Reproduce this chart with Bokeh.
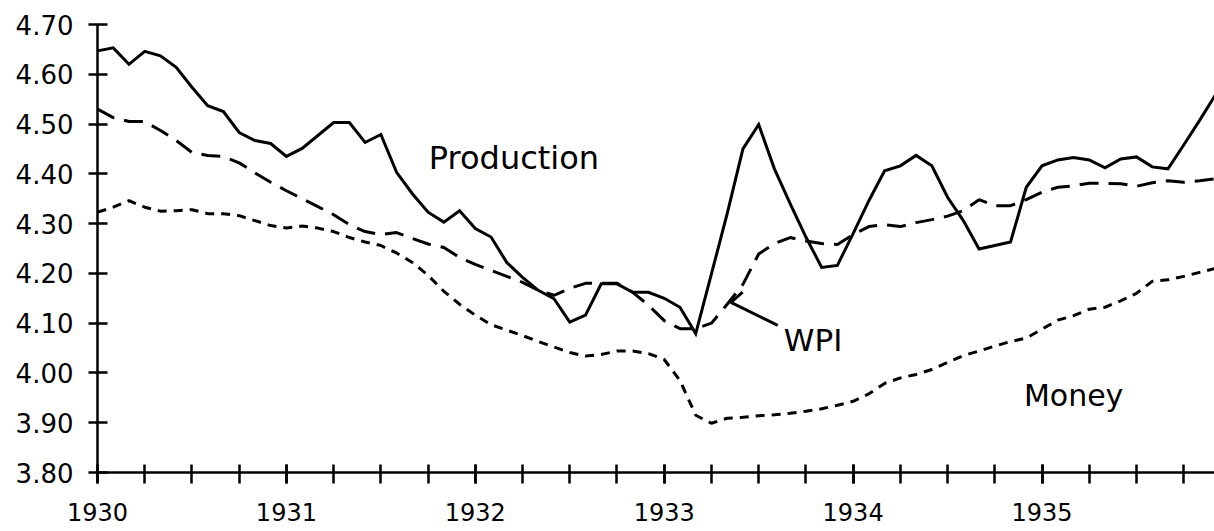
from bokeh.plotting import figure
from bokeh.models import FixedTicker, Range1d
from bokeh.core.properties import value
from bokeh.embed import file_html
from bokeh.resources import INLINE

# ---- data (monthly, Jan 1930 - Dec 1935, natural logs) ----
start_year = 1930
n_months = 72

production = [4.647, 4.653, 4.620, 4.646, 4.637, 4.614, 4.574, 4.537, 4.525, 4.483, 4.467, 4.461,
              4.435, 4.451, 4.477, 4.503, 4.503, 4.463, 4.479, 4.403, 4.360, 4.323, 4.303, 4.326,
              4.290, 4.273, 4.222, 4.192, 4.166, 4.149, 4.102, 4.116, 4.179, 4.179, 4.162, 4.162,
              4.150, 4.132, 4.079, 4.199, 4.320, 4.450, 4.499, 4.410, 4.340, 4.273, 4.212, 4.216,
              4.280, 4.346, 4.406, 4.416, 4.437, 4.416, 4.353, 4.306, 4.249, 4.256, 4.263, 4.373,
              4.416, 4.428, 4.433, 4.428, 4.412, 4.430, 4.434, 4.414, 4.410, 4.458, 4.507, 4.558]

wpi = [4.530, 4.513, 4.505, 4.505, 4.487, 4.467, 4.443, 4.437, 4.435, 4.422, 4.402, 4.383,
       4.366, 4.350, 4.334, 4.318, 4.298, 4.284, 4.278, 4.282, 4.270, 4.259, 4.252, 4.232,
       4.218, 4.206, 4.194, 4.182, 4.166, 4.156, 4.170, 4.180, 4.180, 4.180, 4.162, 4.136,
       4.105, 4.089, 4.089, 4.100, 4.138, 4.178, 4.239, 4.260, 4.272, 4.265, 4.260, 4.258,
       4.278, 4.294, 4.298, 4.294, 4.302, 4.308, 4.315, 4.326, 4.348, 4.336, 4.336, 4.348,
       4.363, 4.373, 4.376, 4.381, 4.381, 4.380, 4.375, 4.382, 4.386, 4.383, 4.386, 4.390]

money = [4.323, 4.333, 4.346, 4.333, 4.325, 4.326, 4.328, 4.320, 4.320, 4.316, 4.306, 4.296,
         4.291, 4.295, 4.291, 4.284, 4.272, 4.263, 4.256, 4.241, 4.222, 4.196, 4.164, 4.138,
         4.116, 4.097, 4.086, 4.075, 4.063, 4.052, 4.041, 4.034, 4.037, 4.044, 4.044, 4.039,
         4.027, 3.985, 3.915, 3.899, 3.909, 3.911, 3.914, 3.916, 3.919, 3.923, 3.928, 3.935,
         3.943, 3.958, 3.979, 3.990, 3.997, 4.007, 4.021, 4.035, 4.044, 4.054, 4.063, 4.070,
         4.088, 4.106, 4.115, 4.128, 4.132, 4.145, 4.160, 4.184, 4.187, 4.194, 4.202, 4.210]

y_ticks = [3.80, 3.90, 4.00, 4.10, 4.20, 4.30, 4.40, 4.50, 4.60, 4.70]
y_tick_labels = ["3.80", "3.90", "4.00", "4.10", "4.20", "4.30", "4.40", "4.50", "4.60", "4.70"]
x_ticks = [1930, 1931, 1932, 1933, 1934, 1935]
x_tick_labels = ["1930", "1931", "1932", "1933", "1934", "1935"]
x_minor_ticks = [1930 + q / 4 for q in range(24)]

series_labels = ["Production", "WPI", "Money"]
label_x = [1931.754, 1933.633, 1934.904]
label_y = [4.4325, 4.0654, 3.955]
label_sizes = ["32px", "31px", "30px"]

# WPI pointer line
leader_x = [1933.601, 1933.353, 1933.415]
leader_y = [4.0955, 4.1416, 4.1623]

months = [start_year + i / 12 for i in range(n_months)]

FONT = "DejaVu Sans"

p = figure(width=1214, height=531, output_backend="svg", toolbar_location=None,
           x_range=Range1d(1930, 1935.913), y_range=Range1d(3.80, 4.70),
           min_border_left=97, min_border_right=0, min_border_top=24, min_border_bottom=59)
p.outline_line_color = None
p.xgrid.visible = False
p.ygrid.visible = False
p.background_fill_color = "white"
p.border_fill_color = "white"

p.line(months, production, line_color="black", line_width=3, line_join="miter")
p.line(months, wpi, line_color="black", line_width=3, line_dash="19 10")
p.line(months, money, line_color="black", line_width=3, line_dash="9 7")
p.line(leader_x, leader_y, line_color="black", line_width=3)

for t, lx, ly, fs in zip(series_labels, label_x, label_y, label_sizes):
    p.text(x=[lx], y=[ly], text=[t], text_font=value(FONT), text_font_size=value(fs),
           text_color="black", text_baseline="alphabetic", text_align="left")

# y axis
ya = p.yaxis[0]
ya.ticker = FixedTicker(ticks=y_ticks)
ya.major_label_overrides = dict(zip(y_ticks, y_tick_labels))
ya.axis_line_width = 2.5
ya.axis_line_color = "black"
ya.major_tick_line_width = 2.5
ya.major_tick_line_color = "black"
ya.major_tick_in = 10
ya.major_tick_out = 9
ya.minor_tick_line_color = None
ya.major_label_text_font = FONT
ya.major_label_text_font_size = "26px"
ya.major_label_text_color = "black"
ya.major_label_standoff = 15

# x axis
xa = p.xaxis[0]
xa.ticker = FixedTicker(ticks=x_ticks, minor_ticks=x_minor_ticks)
xa.major_label_overrides = dict(zip(x_ticks, x_tick_labels))
xa.axis_line_width = 2.5
xa.axis_line_color = "black"
xa.major_tick_line_width = 2.5
xa.major_tick_line_color = "black"
xa.minor_tick_line_width = 2.5
xa.minor_tick_line_color = "black"
xa.major_tick_in = 8
xa.major_tick_out = 11
xa.minor_tick_in = 8
xa.minor_tick_out = 11
xa.major_label_text_font = FONT
xa.major_label_text_font_size = "24px"
xa.major_label_text_color = "black"
xa.major_label_standoff = 19

open("out.html", "w").write(file_html(p, INLINE))
